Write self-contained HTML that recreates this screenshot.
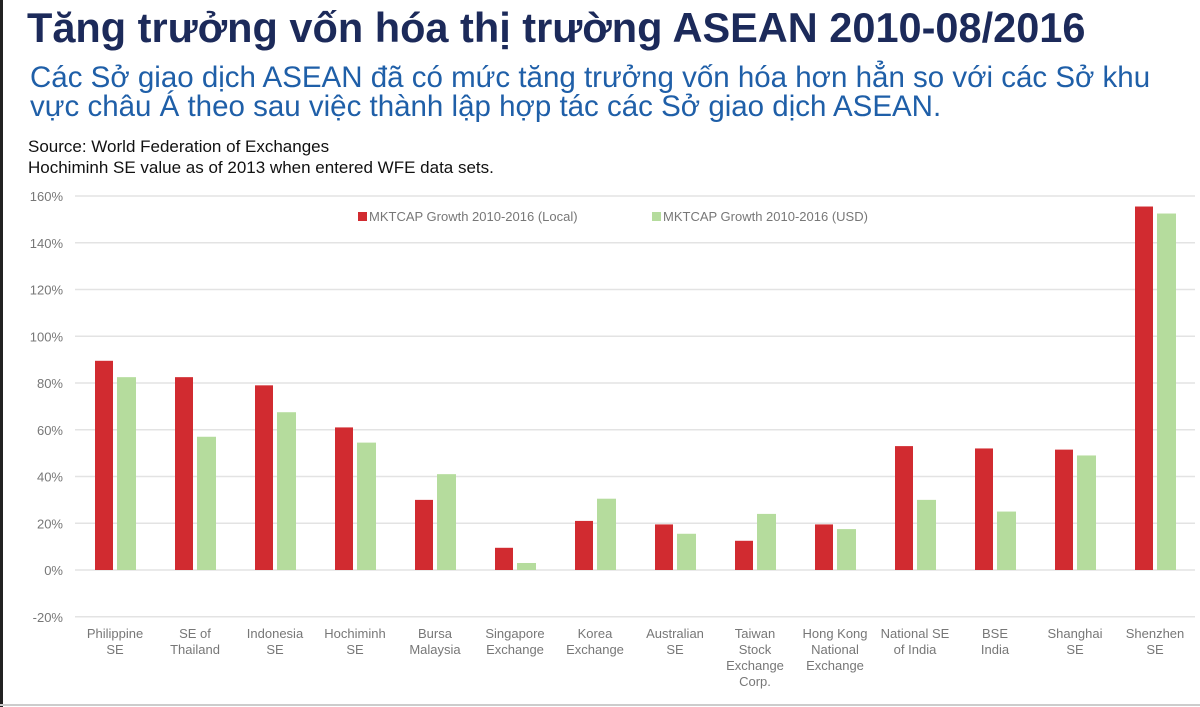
<!DOCTYPE html>
<html><head><meta charset="utf-8"><style>
body{margin:0;width:1200px;height:707px;background:#fff;overflow:hidden;font-family:"Liberation Sans",sans-serif;position:relative}
#frame{position:absolute;left:0;top:0;width:3px;height:707px;background:#222}
h1{position:absolute;left:27px;top:4px;margin:0;font-size:41.5px;font-weight:bold;color:#1c2a5a;white-space:nowrap}
#sub{position:absolute;left:30px;top:63px;font-size:29.5px;color:#1f5fa8;line-height:29px;white-space:nowrap}
#src{position:absolute;left:28px;top:136px;font-size:17px;color:#111;line-height:21px}
svg{position:absolute;left:0;top:0}
</style></head><body>
<div id="frame"></div>
<h1>Tăng trưởng vốn hóa thị trường ASEAN 2010-08/2016</h1>
<div id="sub">Các Sở giao dịch ASEAN đã có mức tăng trưởng vốn hóa hơn hẳn so với các Sở khu<br>vực châu Á theo sau việc thành lập hợp tác các Sở giao dịch ASEAN.</div>
<div id="src">Source: World Federation of Exchanges<br>Hochiminh SE value as of 2013 when entered WFE data sets.</div>
<svg id="chart" width="1200" height="707"></svg>
<script>
const categories=[["Philippine","SE"],["SE of","Thailand"],["Indonesia","SE"],["Hochiminh","SE"],["Bursa","Malaysia"],["Singapore","Exchange"],["Korea","Exchange"],["Australian","SE"],["Taiwan","Stock","Exchange","Corp."],["Hong Kong","National","Exchange"],["National SE","of India"],["BSE","India"],["Shanghai","SE"],["Shenzhen","SE"]];
const localValues=[89.5,82.5,79,61,30,9.5,21,19.5,12.5,19.5,53,52,51.5,155.5];
const usdValues=[82.5,57,67.5,54.5,41,3,30.5,15.5,24,17.5,30,25,49,152.5];
const yTicks=[-20,0,20,40,60,80,100,120,140,160];
const seriesNames=["MKTCAP Growth 2010-2016 (Local)","MKTCAP Growth 2010-2016 (USD)"];
const NS="http://www.w3.org/2000/svg";
const svg=document.getElementById('chart');
const x0=75,x1=1195,yTop=196,yZero=570;
const y=v=>yZero-(v/160)*(yZero-yTop);
const band=(x1-x0)/categories.length;
const cx=i=>x0+band*(i+0.5);
function mk(t,a){const e=document.createElementNS(NS,t);for(const k in a)e.setAttribute(k,a[k]);svg.appendChild(e);return e;}
yTicks.forEach(t=>{
 const g=mk('line',{x1:x0,x2:x1,y1:y(t),y2:y(t),stroke:'#e3e3e3','stroke-width':1.5});
 
 
 const l=mk('text',{x:63,y:y(t)+5,'text-anchor':'end','font-size':13,fill:'#777','font-family':'Liberation Sans Narrow, Liberation Sans, sans-serif'});
 l.textContent=t+'%';
 
 
});
categories.forEach((c,i)=>{
 const r=mk('rect',{x:cx(i)-20,width:18,y:y(localValues[i]),height:yZero-y(localValues[i]),fill:'#d12b30'});
 
 
 const g=mk('rect',{x:cx(i)+2,width:19,y:y(usdValues[i]),height:yZero-y(usdValues[i]),fill:'#b5dc9d'});
 
 
 const t=mk('text',{x:cx(i),y:638,'text-anchor':'middle','font-size':13,fill:'#777','font-family':'Liberation Sans Narrow, Liberation Sans, sans-serif'});
 
 
 c.forEach((s,j)=>{const ts=document.createElementNS(NS,'tspan');ts.setAttribute('x',cx(i));ts.setAttribute('dy',j?16:0);ts.textContent=s;t.appendChild(ts);});
});
const lx=[358,652],cols=['#d12b30','#b5dc9d'];
seriesNames.forEach((n,i)=>{
 const s=mk('rect',{x:lx[i],y:212,width:9,height:9,fill:cols[i]});
 
 
 const t=mk('text',{x:lx[i]+11,y:221,'font-size':13,fill:'#777','font-family':'Liberation Sans, sans-serif'});
 t.textContent=n;
 
 
});
const b=mk('line',{x1:0,x2:1200,y1:705,y2:705,stroke:'#ccc','stroke-width':2});


</script>
</body></html>
